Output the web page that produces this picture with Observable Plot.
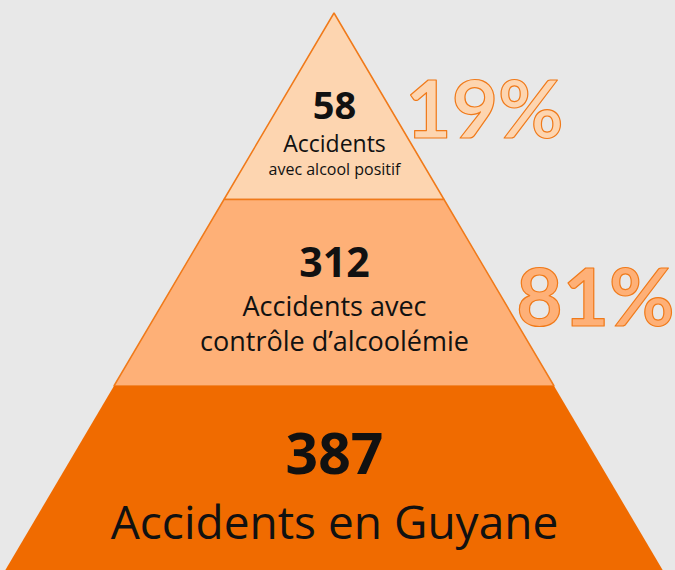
<!DOCTYPE html>
<html>
<head>
<meta charset="utf-8">
<script src="https://cdn.jsdelivr.net/npm/d3@7"></script>
<script src="https://cdn.jsdelivr.net/npm/@observablehq/plot@0.6"></script>
<style>
  html, body { margin: 0; padding: 0; background: #e8e8e8; }
  #chart svg { display: block; background: transparent; }
</style>
</head>
<body>
<div id="chart"></div>
<script>
// Data (top of pyramid first)
const levels = ["alcool positif", "contrôle", "total"];
const counts = [58, 312, 387];
const mainLabels = ["Accidents", "Accidents avec\ncontrôle d’alcoolémie", "Accidents en Guyane"];
const subLabels = ["avec alcool positif", "", ""];
const shares = ["19%", "81%"];

// Layout
const W = 675, H = 570;
const apexX = 334, apexY = 13, bandH = 186.5, slope = 0.59;
const fills = ["#fdd5b0", "#feb077", "#f06b00"];
const lineColor = "#f07a1a";
const font = "'Open Sans', Lato, sans-serif";
const pctFont = "Lato, 'Open Sans', sans-serif";

const halfW = y => (y - apexY) * slope;
const bands = levels.map((lv, i) => {
  const y0 = apexY + i * bandH, y1 = apexY + (i + 1) * bandH + (i === 2 ? 4 : 0);
  return [y0, y1].map(y => ({level: lv, y, x1: apexX - halfW(y), x2: apexX + halfW(y)}));
});

const marks = [];
bands.forEach((pts, i) => {
  marks.push(Plot.areaX(pts, {
    y: "y", x1: "x1", x2: "x2",
    fill: fills[i],
    stroke: i < 2 ? lineColor : "none",
    strokeWidth: 1.5, strokeLinejoin: "miter"
  }));
});

// Count / label positions per band
const countY = [118, 276, 473];
const countSize = [38, 41, 57];
const mainY = [148, 311, 531];
const mainSize = [23, 27, 46];
const rows = levels.map((lv, i) => ({
  count: String(counts[i]), main: mainLabels[i], sub: subLabels[i],
  i
}));

marks.push(Plot.text(rows, {
  x: () => apexX, y: d => countY[d.i], text: "count",
  fontSize: d => countSize[d.i], fontWeight: 700, fill: "#111",
  lineAnchor: "bottom", fontFamily: font
}));
rows.forEach(d => {
  marks.push(Plot.text([d], {
    x: () => apexX, y: () => mainY[d.i], text: "main",
    fontSize: mainSize[d.i], fontWeight: 400, fill: "#111",
    lineAnchor: "top", dy: -mainSize[d.i] * 0.76, lineHeight: 1.3, fontFamily: font
  }));
});
marks.push(Plot.text(rows.filter(d => d.sub), {
  x: () => apexX, y: () => 174, text: "sub",
  fontSize: 16, fill: "#111", lineAnchor: "bottom", fontFamily: font
}));

// Percent labels
const shareRows = shares.map((s, i) => ({s, i}));
const shareX = [484, 595];
const shareY = [137, 325];
marks.push(Plot.text(shareRows, {
  x: d => shareX[d.i], y: d => shareY[d.i], text: "s",
  fontSize: 80, fontWeight: 700,
  fill: d => fills[d.i], stroke: lineColor, strokeWidth: 1.2,
  paintOrder: "normal",
  lineAnchor: "bottom", fontFamily: pctFont
}));

const chart = Plot.plot({
  width: W, height: H, margin: 0,
  x: {domain: [0, W], axis: null},
  y: {domain: [H, 0], axis: null},
  color: {type: "identity"},
  style: {background: "transparent", overflow: "visible"},
  marks
});
document.getElementById("chart").append(chart);
</script>
</body>
</html>
